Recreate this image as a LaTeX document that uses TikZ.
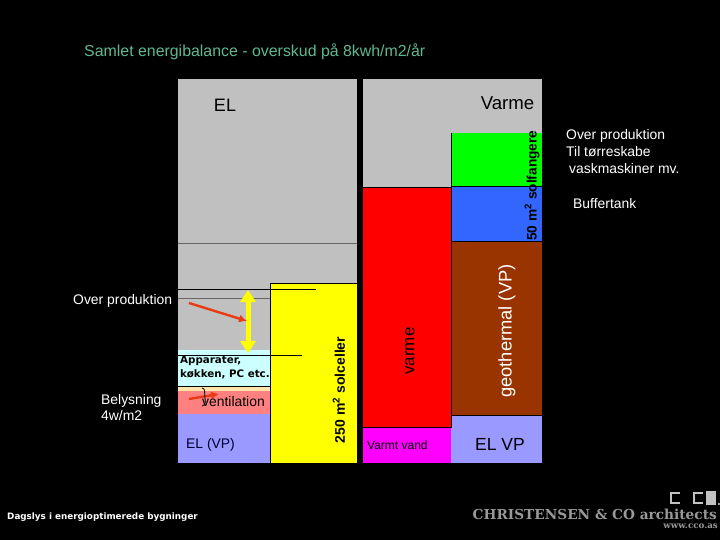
\documentclass[tikz,border=0pt]{standalone}
\usepackage{fontspec}
\setmainfont{Liberation Sans}
\newfontfamily\serifb{DejaVu Serif}
\newfontfamily\sansb{DejaVu Sans}
\usetikzlibrary{arrows.meta}
\definecolor{panelgrey}{HTML}{C0C0C0}
\definecolor{lavender}{HTML}{9999FF}
\definecolor{ltblue}{HTML}{CCFFFF}
\definecolor{cream}{HTML}{FFE6A8}
\definecolor{salmon}{HTML}{FF8080}
\definecolor{brownb}{HTML}{993300}
\definecolor{blueb}{HTML}{3366FF}
\definecolor{magentab}{HTML}{FF00FF}
\definecolor{redarrow}{HTML}{EA3A12}
\definecolor{titlecol}{HTML}{5FB890}
\definecolor{logogrey}{HTML}{999999}
\definecolor{pureyellow}{HTML}{FFFF00}
\definecolor{purered}{HTML}{FF0000}
\definecolor{puregreen}{HTML}{00FF00}
\tikzset{
  lbl/.style={inner sep=0pt,font=\fontsize{13.9}{16}\selectfont,align=left},
  wlbl/.style={lbl,text=white},
  blk/.style={draw=black,line width=0.9pt},
  gline/.style={draw=black!60,line width=0.7pt},
  redarr/.style={draw=redarrow,line width=2.4pt,-{Latex[length=8pt,width=8pt]}},
  yelarr/.style={draw=pureyellow,line width=5pt,{Triangle[length=12pt,width=15pt]}-{Triangle[length=12pt,width=15pt]}}
}
\begin{document}
\begin{tikzpicture}[x=1pt,y=-1pt]
\fill[black] (0,0) rectangle (720,540);
\useasboundingbox (0,0) rectangle (720,540);
% panels
\fill[panelgrey] (178,79) rectangle (357,350);
\fill[panelgrey] (363,79) rectangle (542,187);
% left stack
\fill[ltblue] (178,350) rectangle (270,386);
\fill[cream] (178,386) rectangle (270,391);
\fill[salmon] (178,391) rectangle (270,414);
\fill[lavender] (178,414) rectangle (270,463);
\fill[pureyellow] (270,283) rectangle (357,463);
\draw[blk] (270,463) -- (270,283) -- (357,283);
% right stack
\fill[purered] (363,187) rectangle (451,427);
\fill[magentab] (363,427) rectangle (451,463);
\fill[puregreen] (451,133) rectangle (542,186);
\fill[blueb] (451,186) rectangle (542,241);
\fill[brownb] (451,241) rectangle (542,415);
\fill[lavender] (451,415) rectangle (542,463);
\draw[blk] (363,187) -- (451,187);
\draw[blk] (451,133) -- (451,427) -- (363,427);
\draw[blk] (451,186) -- (542,186);
\draw[blk] (451,241) -- (542,241);
\draw[blk] (451,415) -- (542,415);
% lines
\draw[gline] (178,243) -- (357,243);
\draw[gline] (178,298.5) -- (270,298.5);
\draw[blk] (172,289) -- (316,289);
\draw[blk] (178,355) -- (302,355);
\draw[blk] (178,386.5) -- (270,386.5);
% arrows
\coordinate (ya) at (248,290);
\coordinate (yb) at (248,353);
\draw[yelarr] (ya) -- (yb);
\coordinate (ra) at (189,303);
\coordinate (rb) at (247,321);
\draw[redarr] (ra) -- (rb);
\coordinate (rc) at (189,399);
\coordinate (rd) at (219,394);
\draw[redarr] (rc) -- (rd);
% brace
\draw[black,line width=0.8pt] (202,388) .. controls (206,388) and (204,394) .. (205,398) .. controls (206,403) and (205,405) .. (202,406);
% texts
\node[inner sep=0pt,anchor=west,text=titlecol,font=\fontsize{15.9}{19}\selectfont] (title) at (84,52) {Samlet energibalance - overskud på 8kwh/m2/år};
\node[inner sep=0pt,font=\fontsize{18}{20}\selectfont] (el) at (225,105) {EL};
\node[inner sep=0pt,font=\fontsize{18.6}{20}\selectfont] (varme) at (507.5,103) {Varme};
\node[wlbl,anchor=west] (over) at (73,300.5) {Over produktion};
\node[wlbl,anchor=north west,font=\fontsize{13.9}{15.8}\selectfont] (bely) at (101,394) {Belysning\\4w/m2};
\node[inner sep=0pt,anchor=north west,align=left,font=\fontsize{10.3}{14}\selectfont\bfseries\sansb] (app) at (180,356) {Apparater,\\køkken, PC etc.};
\node[lbl,anchor=west] (vent) at (202,401.5) {ventilation};
\node[lbl,anchor=west,text=black!80!blue] (elvp) at (186,445) {EL (VP)};
\node[inner sep=0pt,rotate=90,font=\fontsize{14}{16}\selectfont\bfseries] (solc) at (339,390) {250 m$^{\mathbf{2}}$ solceller};
\node[inner sep=0pt,rotate=90,font=\fontsize{17}{18}\selectfont] (varm2) at (410,351) {varme};
\node[inner sep=0pt,rotate=90,font=\fontsize{18.3}{20}\selectfont,text=white] (geo) at (507,331) {geothermal (VP)};
\node[inner sep=0pt,rotate=90,font=\fontsize{13.7}{16}\selectfont\bfseries,anchor=west] (solf) at (532,241) {50 m$^{\mathbf{2}}$ solfangere};
\node[lbl,anchor=west,font=\fontsize{12}{14}\selectfont] (vv) at (367,445) {Varmt vand};
\node[inner sep=0pt,font=\fontsize{17.5}{20}\selectfont] (elvp2) at (500,444) {EL VP};
\node[wlbl,anchor=north west,font=\fontsize{13.9}{16.8}\selectfont] (op) at (566,129.5) {Over produktion\\Til tørreskabe\\ \hspace*{3pt}vaskmaskiner mv.};
\node[wlbl,anchor=west] (buf) at (573,203.5) {Buffertank};
\node[inner sep=0pt,anchor=west,text=white,font=\fontsize{8.8}{11}\selectfont\bfseries\sansb] (dag) at (7,517.5) {Dagslys i energioptimerede bygninger};
\node[inner sep=0pt,anchor=east,text=logogrey,font=\fontsize{13.7}{17}\selectfont\bfseries\serifb] (chr) at (717,514) {CHRISTENSEN \& CO architects};
\node[inner sep=0pt,anchor=east,text=logogrey,font=\fontsize{8.7}{10}\selectfont\bfseries\serifb] (www) at (718,526) {www.cco.as};
% logo
\draw[logogrey!60!white,line width=2pt] (680,493) -- (671,493) -- (671,503) -- (680,503);
\draw[logogrey!60!white,line width=2pt] (703,493) -- (694,493) -- (694,503) -- (703,503);
\fill[logogrey!60!white] (706,491) rectangle (716,505);
\fill[logogrey] (718,503) rectangle (720,505);
\end{tikzpicture}
\end{document}
